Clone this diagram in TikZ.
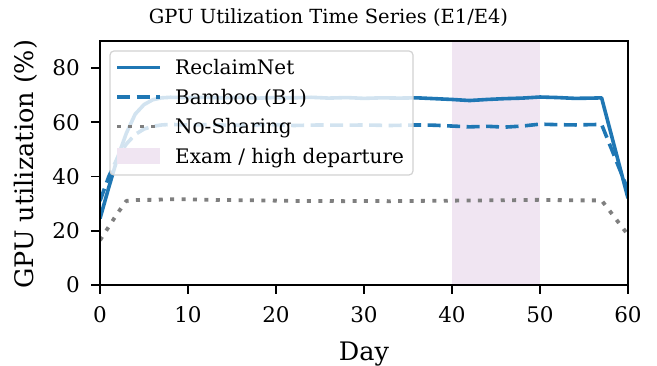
\documentclass[tikz,border=0pt]{standalone}
\usepackage{fontspec}
\setmainfont{DejaVu Serif}
\definecolor{netblue}{RGB}{31,119,180}
\definecolor{nsgray}{RGB}{127,127,127}
\definecolor{exampink}{RGB}{240,229,242}
\definecolor{legframe}{RGB}{210,210,210}
\begin{document}
\begin{tikzpicture}[x=1pt, y=1pt,
    every node/.style={font=\fontsize{20}{24}\selectfont, inner sep=0pt},
    curve/.style={line width=3.6pt, line join=round},
    reclaim/.style={curve, netblue},
    bamboo/.style={curve, netblue, dash pattern=on 13pt off 6.5pt},
    noshare/.style={curve, nsgray, line width=3.8pt, dash pattern=on 4pt off 7.4pt},
    spine/.style={line width=1.8pt},
    ticklab/.style={font=\fontsize{21.5}{25}\selectfont},
    bigfont/.style={font=\fontsize{25.5}{30}\selectfont}]
  \useasboundingbox (0,0) rectangle (657,366);

  \node[anchor=base, font=\fontsize{19.5}{23}\selectfont] (title) at (328.5,342)
    {GPU Utilization Time Series (E1/E4)};

  \begin{scope}[shift={(100,81)}, x=8.8pt, y=2.7125pt]
    % exam window
    \fill[exampink] (40,0) rectangle (50,90);

    % the three runs
    \begin{scope}
      \clip (0,0) rectangle (60,90);
      \draw[reclaim] plot coordinates {(0,24.5) (1,36) (2,47) (3,56) (4,63) (5,66.5)
        (6,68.3) (7,69) (8,69.2) (10,69.1) (12,69.2) (14,69) (16,69.2) (18,68.9)
        (20,69.1) (22,69) (24,69.2) (26,68.9) (28,69.1) (30,68.8) (32,69) (34,68.9)
        (36,69) (38,68.7) (40,68.4) (42,68) (44,68.4) (46,68.7) (48,68.9) (50,69.3)
        (52,69.1) (54,68.8) (56,68.9) (57,69) (60,32)};
      \draw[bamboo] plot coordinates {(0,31) (1,40) (2,47) (3,52) (4,55.5) (5,57.5)
        (6,58.5) (7,59) (8,59.2) (10,59) (12,59.1) (15,58.9) (18,59) (20,59.1)
        (22,58.8) (25,59) (28,58.9) (30,59) (33,58.8) (36,59) (38,58.9) (40,58.6)
        (42,58.3) (44,58.5) (46,58.2) (48,58.6) (50,59.3) (52,59.1) (54,59) (57,59.2)
        (60,35)};
      \draw[noshare] plot coordinates {(0,16.5) (1,21.5) (2,26.5) (3,31) (4,31.3)
        (6,31.4) (8,31.6) (10,31.6) (12,31.4) (15,31.3) (18,31.2) (20,31.1) (22,31)
        (25,31) (28,30.9) (30,31) (33,30.9) (36,31) (40,31.1) (44,31.2) (48,31.3)
        (50,31.4) (54,31.2) (57,31.2) (60,18.5)};
    \end{scope}

    % axes and ticks
    \draw[spine] (0,0) rectangle (60,90);
    \foreach \d in {0,10,...,60} {
      \draw[spine] (\d,0) -- ++(0,-9pt);
      \node[ticklab, anchor=north] (xt\d) at ([yshift=-21.7pt]\d,0) {\d};
    }
    \foreach \v in {0,20,...,80} {
      \draw[spine] (0,\v) -- ++(-9pt,0);
      \node[ticklab, anchor=east] (yt\v) at ([xshift=-20pt]0,\v) {\v};
    }
    \node[bigfont, anchor=north] (xlab) at ([yshift=-57pt]30,0) {Day};
    \node[bigfont, rotate=90] (ylab) at ([xshift=-74.7pt]0,44.5) {GPU utilization (\%)};
  \end{scope}

  % legend
  \draw[legframe, line width=1.2pt, fill=white, fill opacity=0.8, rounded corners=4pt]
    (110,191) rectangle (413,315);
  \draw[reclaim] (117,298.5) -- (160,298.5);
  \draw[bamboo] (117,269) -- (160,269);
  \draw[noshare] (117,239.5) -- (160,239.5);
  \fill[exampink] (117,202) rectangle (160,218);
  \node[anchor=base west] (lreclaim) at (175,291) {ReclaimNet};
  \node[anchor=base west] (lbamboo) at (175,261.5) {Bamboo (B1)};
  \node[anchor=base west] (lnoshare) at (175,232) {No-Sharing};
  \node[anchor=base west] (lexam) at (175,202.5) {Exam / high departure};
\end{tikzpicture}
\end{document}
